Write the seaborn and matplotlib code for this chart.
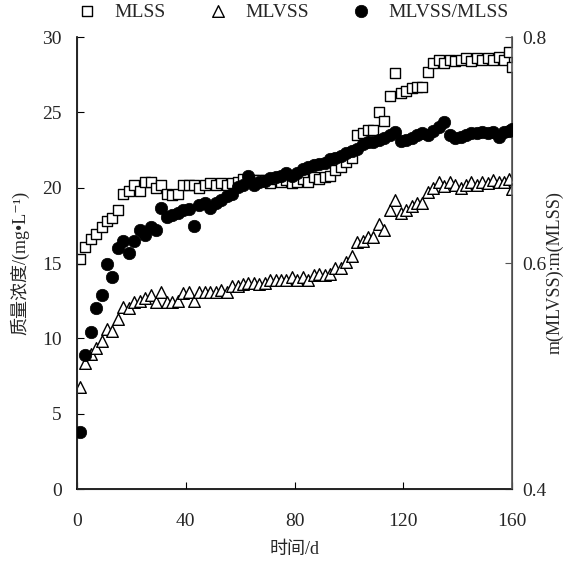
"""MLSS / MLVSS concentration and MLVSS:MLSS ratio over operating time."""

import matplotlib

matplotlib.use("Agg")
import matplotlib.pyplot as plt
import pandas as pd
import seaborn as sns

sns.set_style("ticks")
plt.rcParams["font.family"] = ["Liberation Serif", "Noto Sans CJK SC", "DejaVu Sans"]

DAYS = [
    1, 3, 5, 7, 9, 11, 13, 15, 17, 19, 21, 23, 25, 27, 29, 31, 33, 35, 37, 39,
    41, 43, 45, 47, 49, 51, 53, 55, 57, 59, 61, 63, 65, 67, 69, 71, 73, 75, 77, 79,
    81, 83, 85, 87, 89, 91, 93, 95, 97, 99, 101, 103, 105, 107, 109, 111, 113, 115, 117, 119,
    121, 123, 125, 127, 129, 131, 133, 135, 137, 139, 141, 143, 145, 147, 149, 151, 153, 155, 157, 159,
    160,
]

MLSS = [
    15.3, 16.1, 16.6, 16.9, 17.4, 17.8, 18.0, 18.5, 19.6, 19.8,
    20.2, 19.8, 20.4, 20.4, 20.0, 20.2, 19.6, 19.5, 19.6, 20.2,
    20.2, 20.2, 20.0, 20.2, 20.3, 20.2, 20.3, 20.2, 20.3, 20.4,
    20.6, 20.4, 20.5, 20.5, 20.5, 20.3, 20.6, 20.4, 20.5, 20.3,
    20.4, 20.6, 20.4, 20.7, 20.6, 20.7, 20.8, 21.2, 21.4, 21.7,
    22.0, 23.5, 23.6, 23.8, 23.8, 25.0, 24.4, 26.1, 27.6, 26.3,
    26.4, 26.6, 26.7, 26.7, 27.7, 28.3, 28.5, 28.3, 28.5, 28.4,
    28.5, 28.6, 28.4, 28.6, 28.5, 28.6, 28.5, 28.7, 28.5, 29.0,
    28.0,
]

MLVSS = [
    6.8, 8.4, 9.0, 9.4, 9.8, 10.6, 10.5, 11.3, 12.1, 12.0,
    12.4, 12.5, 12.7, 12.9, 12.4, 13.1, 12.4, 12.4, 12.5, 13.0,
    13.1, 12.5, 13.1, 13.1, 13.1, 13.1, 13.2, 13.1, 13.5, 13.5,
    13.6, 13.7, 13.7, 13.6, 13.7, 13.9, 13.9, 13.9, 13.9, 14.1,
    13.9, 14.1, 13.9, 14.2, 14.3, 14.2, 14.3, 14.7, 14.7, 15.1,
    15.5, 16.4, 16.5, 16.7, 16.7, 17.6, 17.2, 18.5, 19.2, 18.3,
    18.5, 18.8, 19.0, 19.0, 19.7, 20.0, 20.4, 20.1, 20.4, 20.2,
    20.0, 20.2, 20.4, 20.2, 20.4, 20.3, 20.5, 20.4, 20.4, 20.6,
    19.9,
]

RATIO = [
    0.451, 0.519, 0.539, 0.560, 0.572, 0.599, 0.588, 0.613, 0.620, 0.609,
    0.620, 0.629, 0.625, 0.632, 0.629, 0.649, 0.641, 0.643, 0.644, 0.647,
    0.648, 0.633, 0.651, 0.653, 0.649, 0.653, 0.656, 0.659, 0.661, 0.667,
    0.669, 0.677, 0.669, 0.672, 0.673, 0.675, 0.676, 0.677, 0.680, 0.677,
    0.680, 0.683, 0.685, 0.687, 0.688, 0.689, 0.692, 0.693, 0.695, 0.697,
    0.699, 0.701, 0.705, 0.707, 0.707, 0.709, 0.711, 0.713, 0.716, 0.708,
    0.709, 0.711, 0.713, 0.715, 0.713, 0.717, 0.720, 0.725, 0.713, 0.711,
    0.712, 0.713, 0.715, 0.715, 0.716, 0.715, 0.716, 0.712, 0.716, 0.717,
    0.719,
]

df = pd.DataFrame({"day": DAYS, "MLSS": MLSS, "MLVSS": MLVSS, "ratio": RATIO})

FS = 14

fig = plt.figure(figsize=(5.71, 5.61), dpi=100)
ax = fig.add_axes([0.135, 0.128, 0.762, 0.806])
ax2 = ax.twinx()

sns.scatterplot(
    data=df, x="day", y="MLSS", ax=ax, marker="s", s=62,
    facecolor="white", edgecolor="black", linewidth=1.0, label="MLSS", zorder=3,
)
sns.scatterplot(
    data=df, x="day", y="MLVSS", ax=ax, marker="^", s=70,
    facecolor="white", edgecolor="black", linewidth=1.0, label="MLVSS", zorder=3,
)
sns.scatterplot(
    data=df, x="day", y="ratio", ax=ax2, marker="o", s=80,
    color="black", edgecolor="black", linewidth=0.5, label="MLVSS/MLSS", zorder=3,
)

ax.set_xlim(0, 160)
ax.set_ylim(0, 30)
ax2.set_ylim(0.4, 0.8)
ax.set_xticks([0, 40, 80, 120, 160])
ax.set_yticks([0, 5, 10, 15, 20, 25, 30])
ax2.set_yticks([0.4, 0.6, 0.8])
ax2.set_yticklabels(["0.4", "0.6", "0.8"])

ax.tick_params(axis="x", direction="in", length=5, pad=17, labelsize=FS, color="black")
ax.tick_params(axis="y", direction="in", length=5, pad=11, labelsize=FS, color="black")
ax2.tick_params(axis="y", direction="in", length=5, pad=7, labelsize=FS, color="#555555")

for a in (ax, ax2):
    a.spines["top"].set_visible(False)
ax.spines["left"].set_color("black")
ax.spines["bottom"].set_color("black")
ax2.spines["right"].set_color("#555555")
for sp in ("left", "bottom"):
    ax.spines[sp].set_linewidth(1.2)
ax2.spines["right"].set_linewidth(1.2)

ax.set_xlabel("时间/d", fontsize=FS - 1, labelpad=8)
ax.set_ylabel("质量浓度/(mg•L⁻¹)", fontsize=FS - 1, va="center")
ax.yaxis.set_label_coords(-0.131, 0.5)
ax2.set_ylabel("m(MLVSS):m(MLSS)", fontsize=FS - 1, va="center")
ax2.yaxis.set_label_coords(1.099, 0.48)

h1, l1 = ax.get_legend_handles_labels()
h2, l2 = ax2.get_legend_handles_labels()
ax.get_legend().remove()
ax2.get_legend().remove()
fig.legend(
    h1 + h2, l1 + l2, loc="center", bbox_to_anchor=(0.513, 0.979), ncol=3,
    frameon=False, fontsize=FS, handlelength=1.0, handletextpad=0.9,
    columnspacing=2.2, borderaxespad=0,
)

fig.savefig("out.png", dpi=100)
